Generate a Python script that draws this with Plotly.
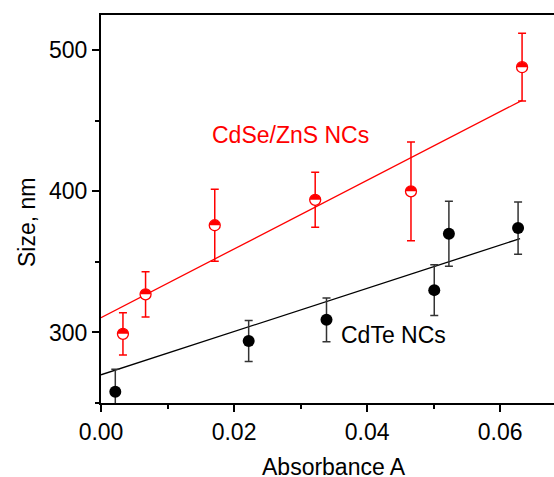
import plotly.graph_objects as go

# CdTe NCs (black)
cdte_x = [0.00215, 0.0222, 0.0339, 0.0501, 0.0523, 0.0627]
cdte_y = [258, 294, 309, 330, 370, 374]
cdte_err = [16, 14.5, 15.5, 18, 23, 18.5]
cdte_fit_x = [0.0, 0.063]
cdte_fit_y = [270, 366.5]

# CdSe/ZnS NCs (red)
cdse_x = [0.0033, 0.0067, 0.0171, 0.0322, 0.0466, 0.0633]
cdse_y = [299, 327, 376, 394, 400, 488]
cdse_err = [15, 16, 25.5, 19.5, 35, 24]
cdse_fit_x = [0.0, 0.0633]
cdse_fit_y = [310.5, 464.5]

x_ticks = [0.00, 0.02, 0.04, 0.06]
x_ticklabels = ["0.00", "0.02", "0.04", "0.06"]
y_ticks = [300, 400, 500]
y_ticklabels = ["300", "400", "500"]

FONT = "Arial, Liberation Sans, sans-serif"

fig = go.Figure()

fig.add_trace(go.Scatter(x=cdte_fit_x, y=cdte_fit_y, mode="lines",
                         line=dict(color="black", width=1.3), showlegend=False))
fig.add_trace(go.Scatter(x=cdse_fit_x, y=cdse_fit_y, mode="lines",
                         line=dict(color="red", width=1.3), showlegend=False))

fig.add_trace(go.Scatter(
    x=cdte_x, y=cdte_y, mode="markers",
    marker=dict(symbol="circle", size=12, color="black", line=dict(width=0)),
    error_y=dict(type="data", array=cdte_err, visible=True, color="#333333",
                 thickness=1.5, width=4),
    showlegend=False))

fig.add_trace(go.Scatter(
    x=cdse_x, y=cdse_y, mode="markers",
    marker=dict(symbol="circle", size=11, color="white", line=dict(width=1.3, color="red")),
    error_y=dict(type="data", array=cdse_err, visible=True, color="red",
                 thickness=1.5, width=4),
    showlegend=False))

# upper half of the red markers filled
r = 5.3
k = 0.5523
half_path = (f"M {-r},0 C {-r},{k*r} {-k*r},{r} 0,{r} "
             f"C {k*r},{r} {r},{k*r} {r},0 Z")
shapes = []
for xv, yv in zip(cdse_x, cdse_y):
    shapes.append(dict(type="path", xref="x", yref="y",
                       xsizemode="pixel", ysizemode="pixel",
                       xanchor=xv, yanchor=yv, path=half_path,
                       fillcolor="red", line=dict(width=0), layer="above"))

L, T, B = 101, 15, 74
W, H = 554, 477
plot_w = W - L
plot_h = H - T - B

annotations = [
    dict(text="CdSe/ZnS NCs", x=0.01632, y=439.7, xref="x", yref="y",
         xanchor="left", yanchor="middle", showarrow=False,
         font=dict(family=FONT, size=23, color="red")),
    dict(text="CdTe NCs", x=0.0358, y=298, xref="x", yref="y",
         xanchor="left", yanchor="middle", showarrow=False,
         font=dict(family=FONT, size=23, color="black")),
    dict(text="Absorbance A", x=(334 - L) / plot_w, y=-(466.5 - (H - B)) / plot_h,
         xref="paper", yref="paper", xanchor="center", yanchor="middle",
         showarrow=False, font=dict(family=FONT, size=23, color="black")),
    dict(text="Size, nm", x=-(L - 27) / plot_w, y=((H - B) - 223) / plot_h,
         xref="paper", yref="paper", xanchor="center", yanchor="middle",
         textangle=-90, showarrow=False,
         font=dict(family=FONT, size=23, color="black")),
]

fig.update_layout(
    width=W, height=H,
    margin=dict(l=L, r=0, t=T, b=B, pad=0),
    paper_bgcolor="white", plot_bgcolor="white",
    font=dict(family=FONT, size=23, color="black"),
    shapes=shapes,
    annotations=annotations,
)

fig.update_xaxes(
    range=[0, 0.0681], tickmode="array", tickvals=x_ticks, ticktext=x_ticklabels,
    ticks="outside", ticklen=7, tickwidth=1.5, tickcolor="black",
    showline=True, linecolor="black", linewidth=2, mirror=True,
    showgrid=False, zeroline=False,
    minor=dict(dtick=0.01, tick0=0, ticks="outside", ticklen=4, tickwidth=1.5,
               tickcolor="black", showgrid=False),
    tickfont=dict(family=FONT, size=23, color="black"),
)
fig.update_yaxes(
    range=[250, 525], tickmode="array", tickvals=y_ticks, ticktext=y_ticklabels,
    ticks="outside", ticklen=7, tickwidth=1.5, tickcolor="black",
    showline=True, linecolor="black", linewidth=2, mirror=False,
    showgrid=False, zeroline=False,
    minor=dict(dtick=50, tick0=0, ticks="outside", ticklen=4, tickwidth=1.5,
               tickcolor="black", showgrid=False),
    tickfont=dict(family=FONT, size=23, color="black"),
)

fig.write_html("out.html",
               config={"displayModeBar": False},
               post_script="document.body.style.margin='0';document.body.style.overflow='hidden';")
